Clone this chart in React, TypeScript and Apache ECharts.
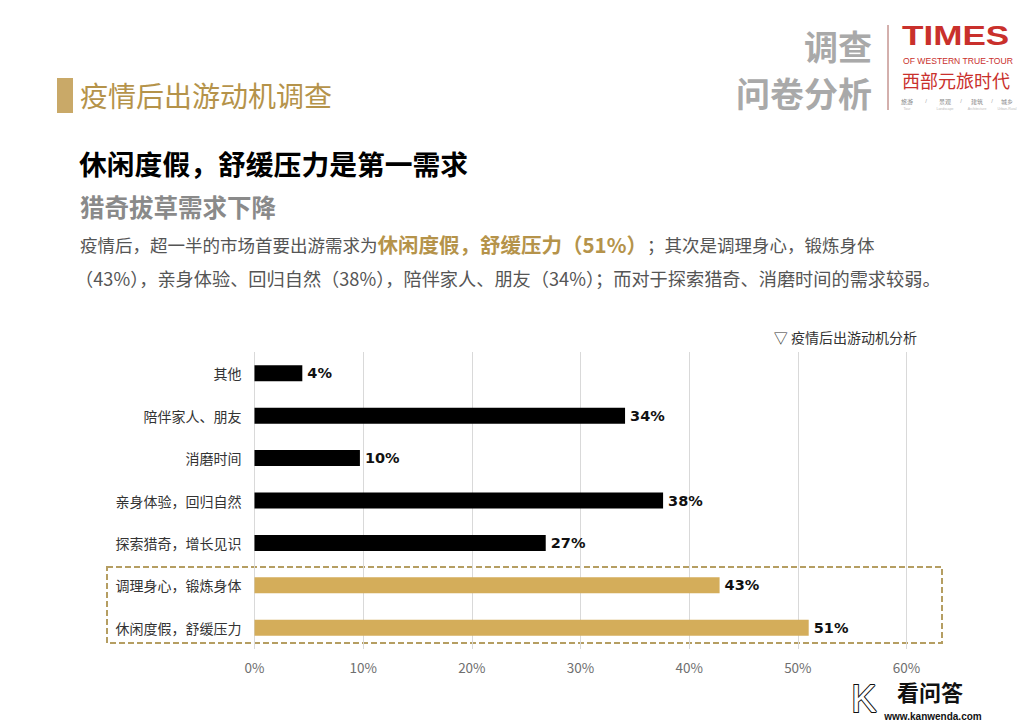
import React, { useEffect, useRef } from "react";
import * as echarts from "echarts";

const categories = ["其他", "陪伴家人、朋友", "消磨时间", "亲身体验，回归自然", "探索猎奇，增长见识", "调理身心，锻炼身体", "休闲度假，舒缓压力"];
const values = [4.4, 34.1, 9.7, 37.6, 26.8, 42.8, 51.0];
const highlighted = [false, false, false, false, false, true, true];
const xTicks = [0, 10, 20, 30, 40, 50, 60];

const GOLD = "#D4AD5A";
const CJK = "'Noto Sans CJK SC', sans-serif";
const LATIN = "'Liberation Sans', sans-serif";

export default function App() {
  const ref = useRef<HTMLDivElement>(null);
  useEffect(() => {
    const chart = echarts.init(ref.current!, null, { renderer: "svg" });
    chart.setOption({
      animation: false,
      backgroundColor: "#ffffff",
      grid: { left: 254.5, right: 1031 - 906.5, top: 352, bottom: 727 - 649, containLabel: false },
      xAxis: {
        type: "value",
        min: xTicks[0],
        max: xTicks[xTicks.length - 1],
        interval: 10,
        axisLine: { show: false },
        axisTick: { show: false },
        splitLine: { show: true, lineStyle: { color: "#d9d9d9", width: 1 } },
        axisLabel: { formatter: "{value}%", color: "#6f6f6f", fontSize: 13.5, fontFamily: CJK, margin: 11 },
      },
      yAxis: {
        type: "category",
        data: categories,
        inverse: true,
        axisLine: { show: false },
        axisTick: { show: false },
        axisLabel: { color: "#333", fontSize: 14, fontFamily: CJK, margin: 13 },
      },
      series: [
        {
          type: "bar",
          barWidth: 16,
          data: values.map((v, i) => ({ value: v, itemStyle: { color: highlighted[i] ? GOLD : "#000000" } })),
          label: {
            show: true,
            position: "right",
            distance: 5,
            formatter: (p: any) => Math.round(p.value) + "%",
            color: "#111",
            fontSize: 14.5,
            fontWeight: "bold",
            fontFamily: "'DejaVu Sans', sans-serif",
          },
        },
      ],
      graphic: [
        // header gold block
        { type: "rect", shape: { x: 57, y: 78, width: 16, height: 35 }, style: { fill: "#C9A968" } },
        { type: "text", x: 80, y: 95, style: { text: "疫情后出游动机调查", fill: "#B5934A", fontSize: 28, fontFamily: CJK, verticalAlign: "middle" } },
        // logo area
        { type: "text", x: 872, y: 45, style: { text: "调查", fill: "#A9A9A9", fontSize: 34, fontWeight: "bold", fontFamily: CJK, align: "right", verticalAlign: "middle" } },
        { type: "text", x: 872, y: 92, style: { text: "问卷分析", fill: "#A9A9A9", fontSize: 34, fontWeight: "bold", fontFamily: CJK, align: "right", verticalAlign: "middle" } },
        { type: "line", shape: { x1: 888, y1: 25, x2: 888, y2: 110 }, style: { stroke: "#A8615A", lineWidth: 1 } },
        { type: "text", x: 902, y: 36, scaleX: 1.3, style: { text: "TIMES", fill: "#C9302C", fontSize: 27, fontWeight: "bold", fontFamily: LATIN, verticalAlign: "middle" } },
        { type: "text", x: 903, y: 61, style: { text: "OF WESTERN TRUE-TOUR", fill: "#C9302C", fontSize: 8.6, fontFamily: LATIN, verticalAlign: "middle" } },
        { type: "text", x: 902, y: 80, style: { text: "西部元旅时代", fill: "#C9302C", fontSize: 18, fontFamily: CJK, verticalAlign: "middle" } },
        { type: "text", x: 907, y: 101, style: { text: "旅游", fill: "#888", fontSize: 6, fontFamily: CJK, align: "center", verticalAlign: "middle" } },
        { type: "text", x: 926, y: 101, style: { text: "/", fill: "#aaa", fontSize: 6, fontFamily: LATIN, align: "center", verticalAlign: "middle" } },
        { type: "text", x: 945, y: 101, style: { text: "景观", fill: "#888", fontSize: 6, fontFamily: CJK, align: "center", verticalAlign: "middle" } },
        { type: "text", x: 961, y: 101, style: { text: "/", fill: "#aaa", fontSize: 6, fontFamily: LATIN, align: "center", verticalAlign: "middle" } },
        { type: "text", x: 977, y: 101, style: { text: "建筑", fill: "#888", fontSize: 6, fontFamily: CJK, align: "center", verticalAlign: "middle" } },
        { type: "text", x: 992, y: 101, style: { text: "/", fill: "#aaa", fontSize: 6, fontFamily: LATIN, align: "center", verticalAlign: "middle" } },
        { type: "text", x: 1007, y: 101, style: { text: "城乡", fill: "#888", fontSize: 6, fontFamily: CJK, align: "center", verticalAlign: "middle" } },
        { type: "text", x: 907, y: 109, style: { text: "Tour", fill: "#bbb", fontSize: 3.5, fontFamily: LATIN, align: "center", verticalAlign: "middle" } },
        { type: "text", x: 945, y: 109, style: { text: "Landscape", fill: "#bbb", fontSize: 3.5, fontFamily: LATIN, align: "center", verticalAlign: "middle" } },
        { type: "text", x: 977, y: 109, style: { text: "Architecture", fill: "#bbb", fontSize: 3.5, fontFamily: LATIN, align: "center", verticalAlign: "middle" } },
        { type: "text", x: 1007, y: 109, style: { text: "Urban-Rural", fill: "#bbb", fontSize: 3.5, fontFamily: LATIN, align: "center", verticalAlign: "middle" } },
        // headings
        { type: "text", x: 79, y: 163, style: { text: "休闲度假，舒缓压力是第一需求", fill: "#000", fontSize: 27.8, fontWeight: "bold", fontFamily: CJK, verticalAlign: "middle" } },
        { type: "text", x: 80, y: 206, style: { text: "猎奇拔草需求下降", fill: "#8A8A8A", fontSize: 24.5, fontWeight: "bold", fontFamily: CJK, verticalAlign: "middle" } },
        {
          type: "text",
          x: 80,
          y: 244,
          style: {
            text: "{n|疫情后，超一半的市场首要出游需求为}{b|休闲度假，舒缓压力（51%）}{n|；其次是调理身心，锻炼身体}",
            verticalAlign: "middle",
            rich: {
              n: { fill: "#555", fontSize: 17.5, fontFamily: CJK },
              b: { fill: "#B5934A", fontSize: 20.5, fontWeight: "bold", fontFamily: CJK },
            },
          },
        },
        { type: "text", x: 75, y: 278, style: { text: "（43%），亲身体验、回归自然（38%），陪伴家人、朋友（34%）；而对于探索猎奇、消磨时间的需求较弱。", fill: "#555", fontSize: 18.2, fontFamily: CJK, verticalAlign: "middle" } },
        // chart caption
        { type: "text", x: 917, y: 337, style: { text: "▽ 疫情后出游动机分析", fill: "#333", fontSize: 14, fontFamily: CJK, align: "right", verticalAlign: "middle" } },
        // dashed highlight box
        { type: "rect", shape: { x: 107, y: 567, width: 835, height: 76 }, style: { fill: "none", stroke: "#B59E62", lineWidth: 2, lineDash: [6, 3] } },
        // watermark
        { type: "text", x: 864, y: 699, style: { text: "K", fill: "#fff", stroke: "#111", lineWidth: 2, fontSize: 38, fontFamily: LATIN, align: "center", verticalAlign: "middle" } },
        { type: "text", x: 930, y: 691, style: { text: "看问答", fill: "#111", fontSize: 22, fontWeight: "bold", fontFamily: CJK, align: "center", verticalAlign: "middle" } },
        { type: "text", x: 933, y: 716, style: { text: "www.kanwenda.com", fill: "#111", fontSize: 10, fontWeight: "bold", fontFamily: LATIN, align: "center", verticalAlign: "middle" } },
      ],
    });
    return () => chart.dispose();
  }, []);
  return <div ref={ref} style={{ position: "fixed", left: 0, top: 0, width: 1031, height: 727 }} />;
}
